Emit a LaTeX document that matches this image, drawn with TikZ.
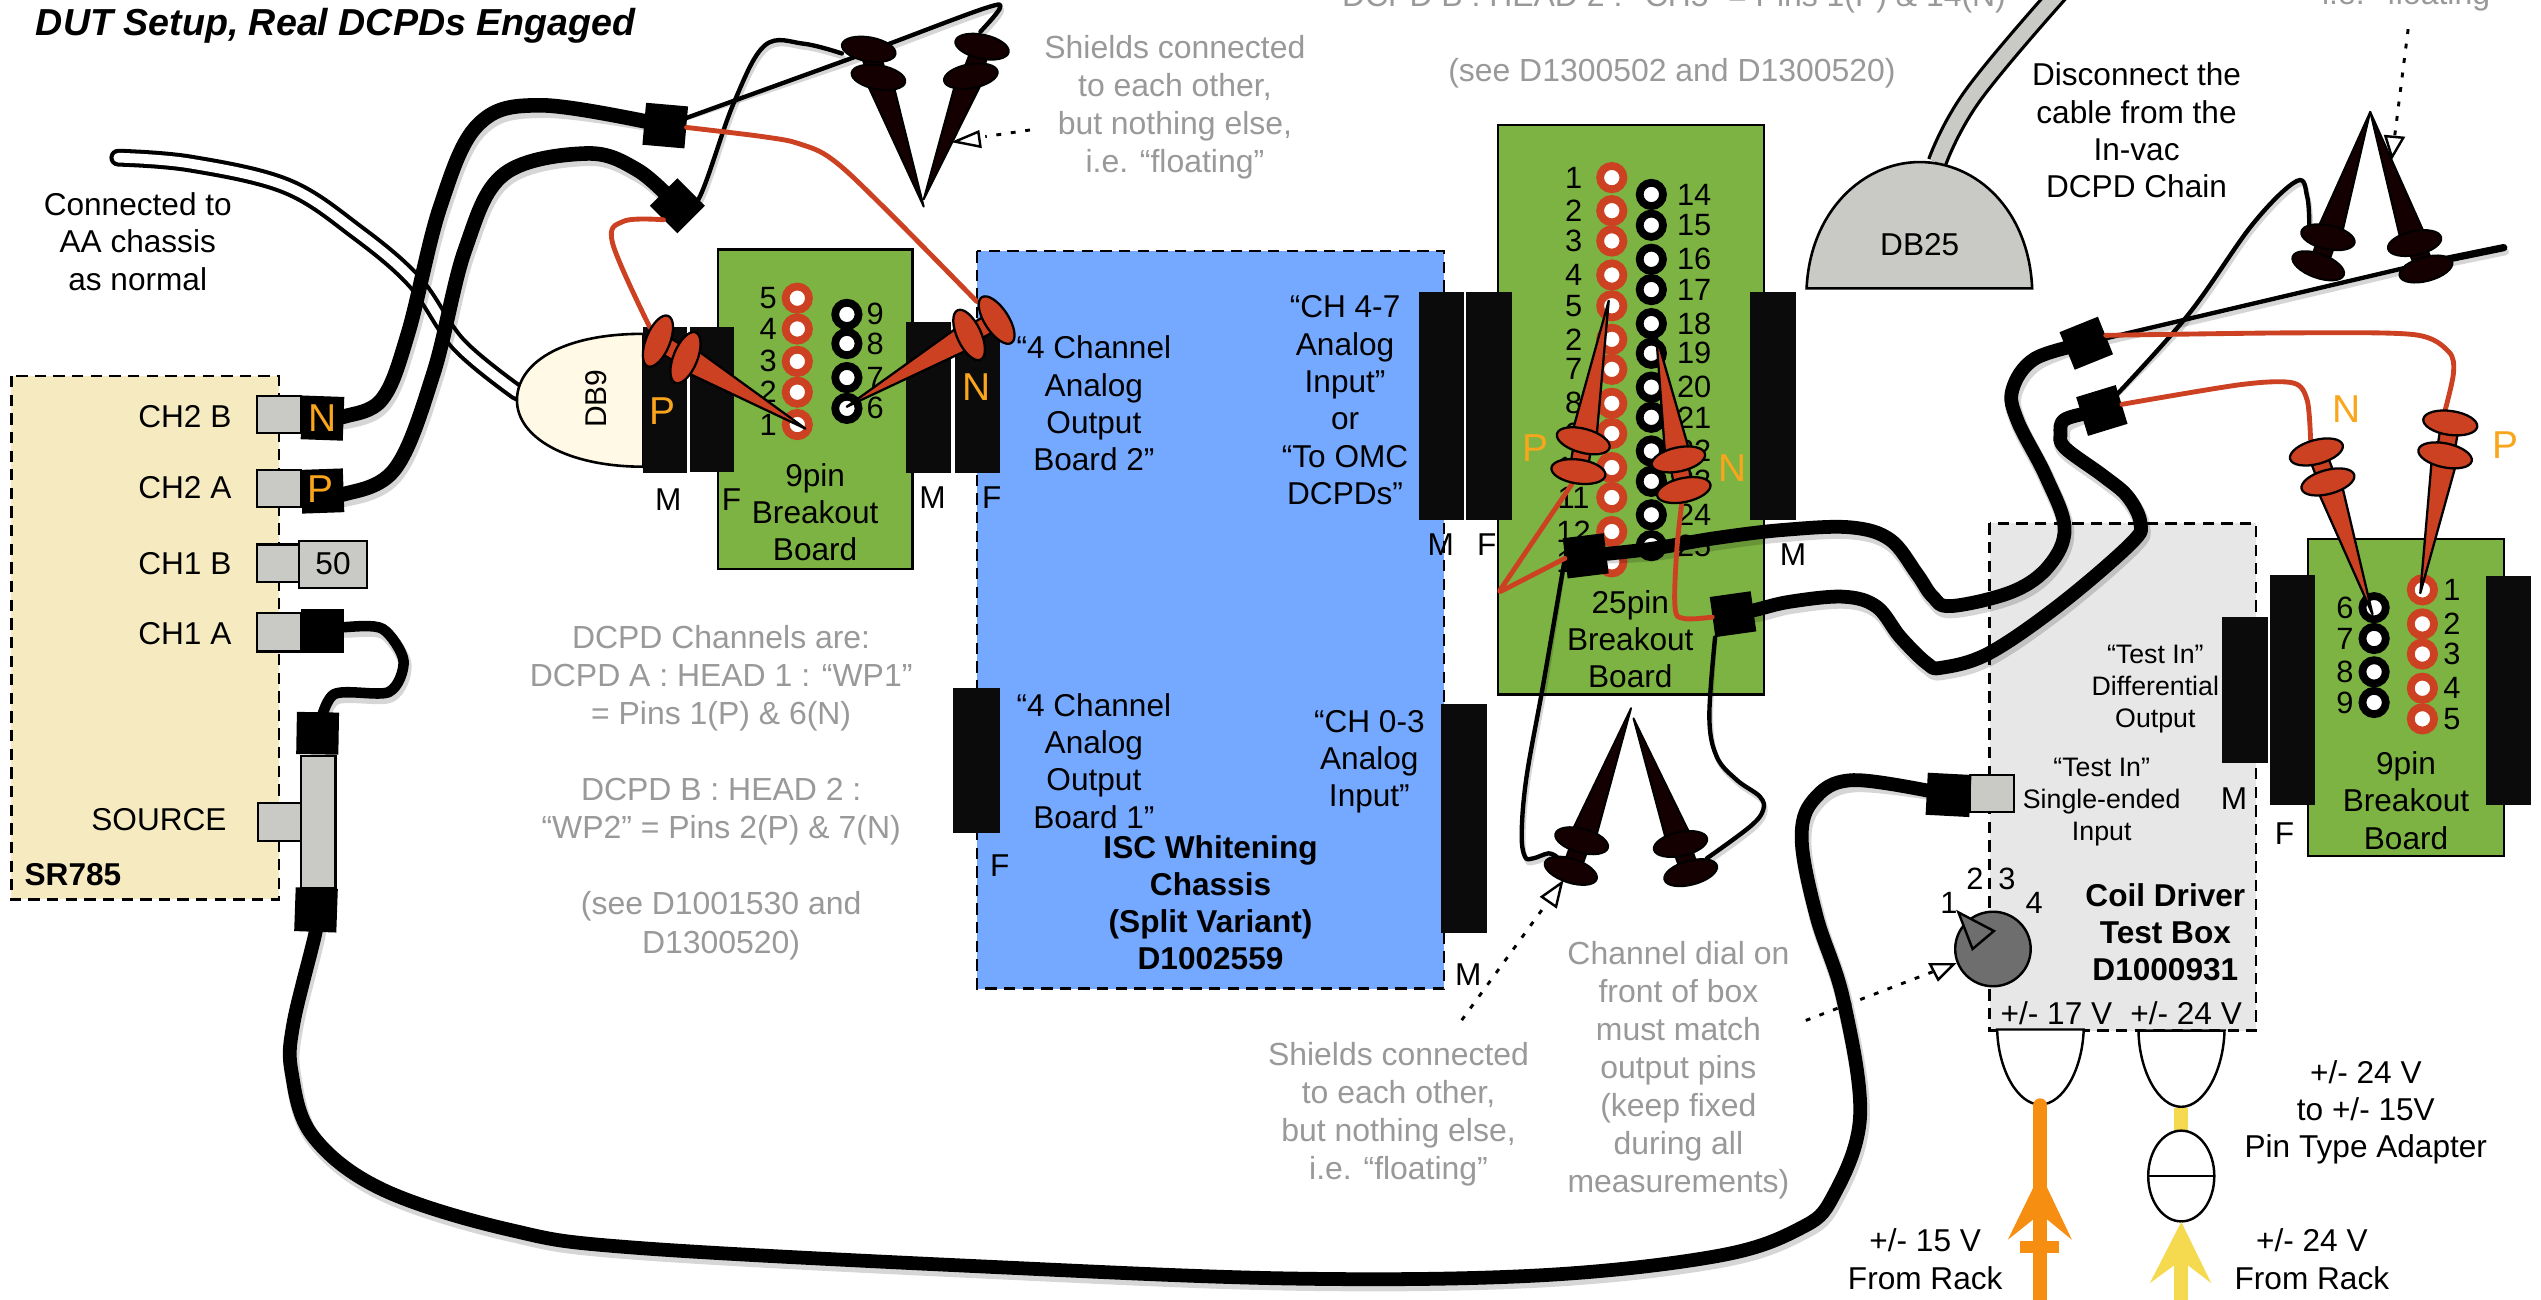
\documentclass[tikz,border=0pt]{standalone}
\usepackage{fontspec}
\setmainfont{Liberation Sans}
\usetikzlibrary{calc}
\definecolor{cream}{HTML}{F6EBC0}
\definecolor{bluebox}{HTML}{75A8FF}
\definecolor{greybox}{HTML}{E7E7E7}
\definecolor{greenb}{HTML}{7CB342}
\definecolor{portg}{HTML}{C9C9C5}
\definecolor{redw}{HTML}{CC4122}
\definecolor{orangel}{HTML}{F9A61C}
\definecolor{blkb}{HTML}{0B0B0B}
\definecolor{darkp}{HTML}{140000}
\definecolor{dbcream}{HTML}{FFF9E5}
\definecolor{gtext}{HTML}{999999}
\definecolor{orangep}{HTML}{F68E12}
\definecolor{yellowp}{HTML}{F5D94E}
\tikzset{
 dbox/.style={draw=black,line width=1.5pt,dash pattern=on 7pt off 4.5pt},
 board/.style={draw=black,line width=1.5pt,fill=greenb},
 blk/.style={fill=blkb},
 portbox/.style={draw=black,line width=1.3pt,fill=portg},
 lbl/.style={font=\fontsize{19.5}{23}\selectfont,align=center,inner sep=0pt,text=black},
 num/.style={font=\fontsize{19}{22}\selectfont,inner sep=0pt,text=black},
 glbl/.style={font=\fontsize{19.7}{23.5}\selectfont,align=center,inner sep=0pt,text=gtext},
 blbl/.style={font=\fontsize{19.5}{23}\selectfont\bfseries,align=center,inner sep=0pt,text=black},
 slbl/.style={font=\fontsize{16.5}{19.7}\selectfont,align=center,inner sep=0pt,text=black},
 olbl/.style={font=\fontsize{24}{28}\selectfont,inner sep=0pt,text=orangel},
 pinred/.style={circle,draw=redw,line width=4.8pt,fill=white,minimum size=14.4pt,inner sep=0pt},
 pinblk/.style={circle,draw=black,line width=4.8pt,fill=white,minimum size=14.4pt,inner sep=0pt},
 plugblk/.style={fill=black,minimum width=25.5pt,minimum height=25pt,inner sep=0pt},
 wire/.style={draw=black,line width=2.7pt,line cap=round,line join=round},
 redwire/.style={draw=redw,line width=3pt,line cap=round,line join=round},
 dotl/.style={draw=black,line width=1.8pt,dash pattern=on 3pt off 6pt},
 arrowtri/.style={draw=black,line width=1.5pt,fill=white,line join=miter},
 redprobe/.style={draw=black,line width=1.4pt,fill=redw,line join=round},
 darkprobe/.style={draw=black,line width=1.2pt,fill=darkp,line join=round},
 shad/.style={draw=black,opacity=.16,xshift=1pt,yshift=-2.5pt,line cap=round,line join=round},
}
\newcommand{\cable}[3][smooth,tension=.6]{%
 \draw[shad,line width=#2+1.5pt] plot[#1] coordinates {#3};
 \draw[black,line width=#2,line cap=round,line join=round] plot[#1] coordinates {#3};}
\newcommand{\thinwire}[2][wire]{%
 \draw[shad,line width=2.7pt] plot[smooth,tension=.6] coordinates {#2};
 \draw[#1] plot[smooth,tension=.6] coordinates {#2};}
\newcommand{\probe}[6]{%
 \coordinate (pt) at (#2); \coordinate (pn) at (#3); \coordinate (pf) at (#4);
 \path[#1] (pt) -- ($(pn)!8pt!90:(pt)$) -- ($(pn)!8pt!-90:(pt)$) -- cycle;
 \path[#1] ($(pn)!5.5pt!90:(pf)$) -- ($(pn)!5.5pt!-90:(pf)$) -- ($(pf)!5.5pt!90:(pn)$) -- ($(pf)!5.5pt!-90:(pn)$) -- cycle;
 \path[#1,rotate around={#5:(pn)}] (pn) ellipse (16.8pt and 7.4pt);
 \path[#1,rotate around={#6:(pf)}] (pf) ellipse (16.8pt and 7.4pt);}
\begin{document}
\begin{tikzpicture}[x=1pt,y=-1pt]
\useasboundingbox (0,0) rectangle (1568,802);
\clip (0,0) rectangle (1568,802);
\fill[white] (0,0) rectangle (1568,802);
% ---- enclosures
\path[dbox,fill=cream] (7,232) rectangle (172,555);
\path[dbox,fill=bluebox] (603,155) rectangle (891,610);
\path[dbox,fill=greybox] (1227.7,323) rectangle (1392.2,636);
% ---- boards
\path[board] (443,154) rectangle (563,351);
\path[board] (924.3,77) rectangle (1088.4,428.5);
\path[board] (1424.3,332.5) rectangle (1545,528.3);
% ---- ports on SR785
\path[portbox] (158.6,244.5) rectangle (186,267.4);
\path[portbox] (158.6,290) rectangle (186,313);
\path[portbox] (158.6,336) rectangle (186,359);
\path[portbox] (158.6,378) rectangle (186,402);
\path[portbox] (159,495.7) rectangle (186,519);
\path[portbox] (184.6,333.6) rectangle (226.4,362.6);
\path[portbox] (186,466.6) rectangle (207,548);
\path[portbox] (1215.8,478.5) rectangle (1242.9,501);
% ---- black D-sub blocks
\fill[blk] (397,202) rectangle (424,292);
\fill[blk] (426,201.5) rectangle (453,291);
\fill[blk] (559,199) rectangle (587,292);
\fill[blk] (589,199) rectangle (617,292);
\fill[blk] (588,424.6) rectangle (617,514);
\fill[blk] (889,434.4) rectangle (917.4,576);
\fill[blk] (875.5,180) rectangle (903.3,321);
\fill[blk] (904.8,180) rectangle (933,321);
\fill[blk] (1080,180) rectangle (1108.4,321);
\fill[blk] (1371,381) rectangle (1399.5,471);
\fill[blk] (1401,354.8) rectangle (1428.7,496.5);
\fill[blk] (1534.2,355.5) rectangle (1562,496.5);
% ---- pins, 9pin left board
\foreach \n/\y in {5/184,4/203,3/223,2/242,1/262}{
 \node[pinred] (a\n) at (492,\y) {};
 \node[num] (al\n) at (474,\y) {\n};}
\foreach \n/\y in {9/194,8/212,7/233,6/252}{
 \node[pinblk] (a\n) at (522.6,\y) {};
 \node[num] (al\n) at (540,\y) {\n};}
% ---- pins, 25pin board
\foreach \i/\n/\y in {1/1/109.6,2/2/130,3/3/148.7,4/4/169.7,5/5/188.7,6/2/209.4,7/7/227.9,8/8/248.9,9/9/267.5,10/10/288.5,11/11/307,12/12/328,13/13/346.7}{
 \node[num] (bl\i) at (971,\y) {\n};
 \node[pinred] (b\i) at (994.6,\y) {};}
\foreach \n/\y in {14/120,15/139,16/160,17/178.7,18/199.7,19/218,20/238.9,21/257.5,22/278.3,23/297,24/317.7,25/336.7}{
 \node[num] (bl\n) at (1045.4,\y) {\n};
 \node[pinblk] (b\n) at (1019,\y) {};}
% ---- pins, 9pin right board
\foreach \n/\y in {6/375,7/394,8/414.6,9/433.5}{
 \node[pinblk] (c\n) at (1465,\y) {};
 \node[num] (cl\n) at (1447,\y) {\n};}
\foreach \n/\y in {1/364,2/385,3/403.6,4/424.7,5/443.6}{
 \node[pinred] (c\n) at (1494.8,\y) {};
 \node[num] (cl\n) at (1513,\y) {\n};}
% ---- AA cable and DB9
\coordinate (aaStart) at (73,97.3);
\coordinate (aaEnd) at (319,242);
\draw[black,line width=11pt,line cap=round] plot[smooth,tension=.6] coordinates {(aaStart) (118,101) (177,115) (220,143) (256,174) (283,212.5) (aaEnd)};
\draw[white,line width=6pt,line cap=round] plot[smooth,tension=.6] coordinates {(aaStart) (118,101) (177,115) (220,143) (256,174) (283,212.5) (aaEnd)};
\path[draw=black,line width=1.6pt,fill=dbcream] (397,206) .. controls (345,206) and (319,225) .. (319,247) .. controls (319,270) and (350,288) .. (397,288) -- cycle;
\fill[blk] (397,202) rectangle (424,292);
% ---- DB25 with its cable
\coordinate (db25top) at (1195.4,100);
\draw[black,line width=13pt] plot[smooth,tension=.7] coordinates {(db25top) (1217.3,59) (1271,-5)};
\draw[portg,line width=9pt] plot[smooth,tension=.7] coordinates {(db25top) (1217.3,59) (1271,-5)};
\path[draw=black,line width=1.6pt,fill=portg] (1114.8,178) .. controls (1117,130) and (1150,100) .. (1184.6,100) .. controls (1220,100) and (1252,130) .. (1254,178) -- cycle;
% ---- plugs
\node[plugblk,rotate=-2,minimum width=26pt,minimum height=27pt] (pN) at (199,258) {};
\node[plugblk,rotate=2,minimum width=26pt,minimum height=27pt] (pP) at (199,303) {};
\node[plugblk,minimum width=26pt,minimum height=27pt] (p1A) at (199,389.5) {};
\node[plugblk,minimum width=26pt,minimum height=26pt,rotate=-1] (tTop) at (196,452.5) {};
\node[plugblk,minimum width=26pt,minimum height=27pt,rotate=-2] (tBot) at (195,561.5) {};
\node[plugblk,rotate=-5,minimum width=26pt,minimum height=26pt] (s1) at (410.5,77.5) {};
\node[plugblk,rotate=45,minimum width=24pt,minimum height=24pt] (s2) at (418,127) {};
\node[plugblk,rotate=7] (qA) at (978.5,343) {};
\node[plugblk,rotate=8] (qC) at (1069.4,379) {};
\node[plugblk,rotate=22] (qB1) at (1287.4,211.8) {};
\node[plugblk,rotate=17] (qB2) at (1297,253.3) {};
\node[plugblk,rotate=-3,minimum width=27pt,minimum height=26pt] (qT) at (1202.4,490.5) {};
% ---- thick cables
\cable{9pt}{(pN.center) (212.5,257) (236,246) (252,205) (271.5,128) (295,77) (334.5,65) (s1.center)}
\cable{9pt}{(pP.center) (212,305) (244,289) (267.6,230) (287,154) (311,107.5) (362,94.7) (393.5,105) (s2.center)}
\cable[smooth,tension=.5]{6.5pt}{(p1A.center) (212.5,387) (236,388) (249,407.7) (240,427) (206,428.5) (tTop.center)}
\cable{8.5pt}{(tBot.center) (195,574) (181,632) (180,662) (193,701) (236,734) (315,759) (393,770) (617,782) (800,789) (950,787) (1060,775) (1110.8,758) (1131,738.5) (1147.8,689) (1137.5,617) (1121,565.7) (1111.8,518.4) (1119,493.7) (1143.7,481.4) (qT.center)}
\cable{8.5pt}{(qA.center) (1018,338.8) (1059,332) (1100.5,327) (1141.6,325.4) (1166.3,333) (1182.8,354) (1192.5,368) (1204,374) (1242,365) (1264.5,349) (1274,325.7) (1262.4,293.8) (1245,259.7) (1241.8,240.5) (1255.5,221.4) (qB1.center)}
\cable{8.5pt}{(qC.center) (1083,376.4) (1104.6,371.3) (1137.5,368.2) (1158,374.4) (1172.5,393) (1189,409.3) (1198.3,412) (1227.5,403) (1271.2,373) (1315,335.3) (1320.8,322.7) (1313,306.5) (1298,293.8) (1274.6,276.7) (1271.5,268) (1274.6,258.6) (qB2.center)}
% ---- annotation arrows
\draw[dotl] (635.6,80.2) -- (608,84.3);
\path[arrowtri] (589.3,87.4) -- (603.7,81.3) -- (605,90.5) -- cycle;
\draw[dotl] (902,629.5) -- (951.4,561.6);
\path[arrowtri] (963.7,544.7) -- (951.4,553.4) -- (960.2,559.5) -- cycle;
\draw[dotl] (1114.3,629.7) -- (1192.5,599.7);
\draw[dotl] (1486,18) -- (1477.7,84);
\path[arrowtri] (1472,84) -- (1483,85) -- (1476,97) -- cycle;
% ---- dial
\path[draw=black,line width=1.5pt,fill=black!57] (1229.8,585.6) ellipse (23.3pt and 23pt);
\path[draw=black,line width=1.5pt,fill=black!57,line join=miter] (1208.5,563) -- (1230.4,574.5) -- (1217.2,585.6) -- cycle;
\path[arrowtri] (1191,595) -- (1205.6,595) -- (1196,604.5) -- cycle;
% ---- power plugs
\path[draw=black,line width=1.5pt,fill=white] (1232.4,635.3) .. controls (1233,660) and (1245,681.6) .. (1259,681.6) .. controls (1273,681.6) and (1285,660) .. (1285.8,635.3) -- cycle;
\path[draw=black,line width=1.5pt,fill=white] (1319.6,636) .. controls (1320,661) and (1332,683) .. (1346,683) .. controls (1360,683) and (1372,661) .. (1372.7,636) -- cycle;
\draw[orangep,line width=8.5pt,line cap=round] (1259,682) -- (1259,810);
\fill[orangep] (1259,724) -- (1278.5,765) -- (1259,749) -- (1239,765) -- cycle;
\fill[orangep] (1246.7,765.7) rectangle (1270.3,773);
\draw[yellowp,line width=8.5pt] (1346,684) -- (1346,702);
\path[draw=black,line width=1.5pt,fill=white] (1346,725.7) ellipse (20.4pt and 28pt);
\draw[black,line width=1.5pt] (1325.6,725.7) -- (1366.4,725.7);
\draw[yellowp,line width=8.8pt] (1346,770) -- (1346,810);
\fill[yellowp] (1346,754) -- (1364.5,791.8) -- (1346,777.6) -- (1326.6,791.8) -- cycle;
% ---- thin wires and probes
\thinwire{(s2.center) (431,123) (452.6,64) (472,28) (496,27) (519.5,33)}
\thinwire{(s1.center) (529,34.6) (552.3,25.7) (608,5) (617,5) (605,19.5)}
\probe{darkprobe}{570,127.5}{542,47.7}{536,30.4}{-10}{-10}
\probe{darkprobe}{570,123}{599,47}{606,28.8}{10}{-12}
\path[redwire] plot[smooth,tension=.6] coordinates {(s2.west) (385,136.5) (378,150) (401,202)};
\path[redwire] plot[smooth,tension=.6] coordinates {(s1.east) (472,84.5) (493.7,88.9) (514,98.7) (545,127.5) (602.7,186)};
\probe{redprobe}{497,264.5}{423,220.7}{406,210.5}{68}{68}
\probe{redprobe}{522.5,251}{598,206.7}{615,197.5}{-65}{-57}
\thinwire{(qA.west) (952.4,421.7) (942,479.3) (939,514) (941,528.6) (946,529.7) (955.5,526.6) (960.6,528.7)}
\thinwire{(qC.south west) (1054.8,442.3) (1059.4,467) (1071.7,481.3) (1086,491.6) (1088,499.8) (1080,510) (1053.2,529.7)}
\probe{darkprobe}{1006.5,437}{976,518.8}{969.3,537.3}{-15}{-18}
\probe{darkprobe}{1008,443.3}{1037,520.8}{1043.3,538.5}{12}{15}
\path[redwire,rounded corners=2pt] (qA.west) -- (924.6,365.7) -- (971,297.2);
\path[redwire] plot[smooth,tension=.6] coordinates {(qC.west) (1038.8,381.6) (1033.6,374.4) (1034.7,339.4) (1037.8,310.6)};
\probe{redprobe}{992.7,185.6}{977,272}{974,291}{-15}{-8}
\probe{redprobe}{1022,207}{1035.7,283.5}{1039,302.4}{12}{12}
\thinwire{(qB2.center) (1349,195.8) (1390,138.4) (1417.3,111.7) (1423.7,121.3) (1425,138.4)}
\thinwire{(qB1.center) (1300.2,208.6) (1485.4,165)}
\draw[shad,line width=4.5pt] (1485.4,165) -- (1545,152.8);
\draw[black,line width=4.5pt,line cap=round] (1485.4,165) -- (1545,152.8);
\probe{darkprobe}{1462.6,69}{1436.5,146.4}{1430.5,164}{-12}{-20}
\probe{darkprobe}{1462.6,69}{1490,150}{1497,166}{12}{15}
\path[redwire] plot[smooth,tension=.5] coordinates {(qB1.east) (1415,205.4) (1489.7,206.5) (1511,217) (1514,230) (1508.8,253.3)};
\path[redwire] plot[smooth,tension=.5] coordinates {(qB2.east) (1383,237.3) (1415,236.3) (1423.7,247) (1425.8,271.4)};
\probe{redprobe}{1464,379}{1436.5,297.4}{1429.4,278.9}{15}{15}
\probe{redprobe}{1493.5,366}{1508.8,281}{1512,261}{-12}{-8}
% ---- texts
\node[anchor=west,inner sep=0pt,font=\fontsize{23.2}{27}\selectfont\bfseries\itshape] (title) at (22,16) {DUT Setup, Real DCPDs Engaged};
\node[lbl] (tAA) at (85,149) {Connected to\\AA chassis\\as normal};
\node[lbl,anchor=east] (tC2B) at (143,257) {CH2 B};
\node[lbl,anchor=east] (tC2A) at (143,301) {CH2 A};
\node[lbl,anchor=east] (tC1B) at (143,348) {CH1 B};
\node[lbl,anchor=east] (tC1A) at (143,391) {CH1 A};
\node[lbl,anchor=east] (tSrc) at (140,506) {SOURCE};
\node[blbl,anchor=west] (tSR) at (15,540) {SR785};
\node[lbl] (t50) at (205.5,348) {50};
\node[olbl] (oN) at (199,258) {N};
\node[olbl] (oP) at (198,302) {P};
\node[lbl,rotate=90,font=\fontsize{18.5}{22}\selectfont] (tDB9) at (368,246) {DB9};
\node[olbl] (oP2) at (408.5,253.5) {P};
\node[olbl] (oN2) at (602.7,238.6) {N};
\node[lbl] (m1) at (412.4,308.5) {M};
\node[lbl] (f1) at (451.4,308.5) {F};
\node[lbl] (m2) at (575.4,307) {M};
\node[lbl] (f2) at (612,307) {F};
\node[lbl] (t9a) at (503,316) {9pin\\Breakout\\Board};
\node[glbl] (tDC) at (445,489) {DCPD Channels are:\\DCPD A : HEAD 1 : “WP1”\\= Pins 1(P) \& 6(N)\\[23.5pt]DCPD B : HEAD 2 :\\“WP2” = Pins 2(P) \& 7(N)\\[23.5pt](see D1001530 and\\D1300520)};
\node[glbl] (tSh1) at (725,66) {Shields connected\\to each other,\\but nothing else,\\i.e. “floating”};
\node[glbl] (tSh2) at (863,687.5) {Shields connected\\to each other,\\but nothing else,\\i.e. “floating”};
\node[glbl] (tDial) at (1035.7,660.5) {Channel dial on\\front of box\\must match\\output pins\\(keep fixed\\during all\\measurements)};
\node[glbl,anchor=base] (tTop1) at (1033,4) {DCPD B : HEAD 2 :  “CH5” = Pins 1(P) \& 14(N)};
\node[glbl] (tSee) at (1031.7,45.5) {(see D1300502 and D1300520)};
\node[glbl,anchor=base] (tTop2) at (1488,3) {i.e. “floating”};
\node[lbl] (tB2) at (675,249) {“4 Channel\\Analog\\Output\\Board 2”};
\node[lbl] (tB1) at (675,469.5) {“4 Channel\\Analog\\Output\\Board 1”};
\node[lbl] (t47) at (830,247) {“CH 4-7\\Analog\\Input”\\or\\“To OMC\\DCPDs”};
\node[lbl] (t03) at (845,470) {“CH 0-3\\Analog\\Input”};
\node[blbl] (tISC) at (747,557) {ISC Whitening\\Chassis\\(Split Variant)\\D1002559};
\node[lbl] (f3) at (617,534) {F};
\node[lbl] (m3) at (906,601.5) {M};
\node[lbl] (m4) at (889,336) {M};
\node[lbl] (f4) at (917.5,336) {F};
\node[lbl] (m5) at (1106.5,342.3) {M};
\node[lbl] (t25) at (1006,394.5) {25pin\\Breakout\\Board};
\node[olbl] (oP3) at (947.3,276.5) {P};
\node[olbl] (oN3) at (1069.4,289) {N};
\node[lbl] (tDB25) at (1184.6,151) {DB25};
\node[lbl] (tDisc) at (1318.4,80.5) {Disconnect the\\cable from the\\In-vac\\DCPD Chain};
\node[olbl] (oN4) at (1447.7,252.3) {N};
\node[olbl] (oP4) at (1546,274.6) {P};
\node[lbl] (t9b) at (1484.7,494) {9pin\\Breakout\\Board};
\node[slbl] (tTI1) at (1330,425) {“Test In”\\Differential\\Output};
\node[slbl] (tTI2) at (1296.9,495) {“Test In”\\Single-ended\\Input};
\node[lbl] (m6) at (1378.5,492.7) {M};
\node[lbl] (f6) at (1409.7,514.7) {F};
\node[blbl] (tCoil) at (1336.2,575.3) {Coil Driver\\Test Box\\D1000931};
\node[num] (d1) at (1202.7,557) {1};
\node[num] (d2) at (1218.7,542.5) {2};
\node[num] (d3) at (1238.5,542.5) {3};
\node[num] (d4) at (1255.2,557) {4};
\node[lbl] (v17) at (1269,625) {+/-  17 V};
\node[lbl] (v24) at (1349,625) {+/-  24 V};
\node[lbl] (tAd) at (1459.9,686.3) {+/- 24 V\\to +/- 15V\\Pin Type Adapter};
\node[lbl] (tR1) at (1188,777) {+/- 15 V\\From Rack};
\node[lbl] (tR2) at (1426.6,777) {+/- 24 V\\From Rack};
\end{tikzpicture}
\end{document}
